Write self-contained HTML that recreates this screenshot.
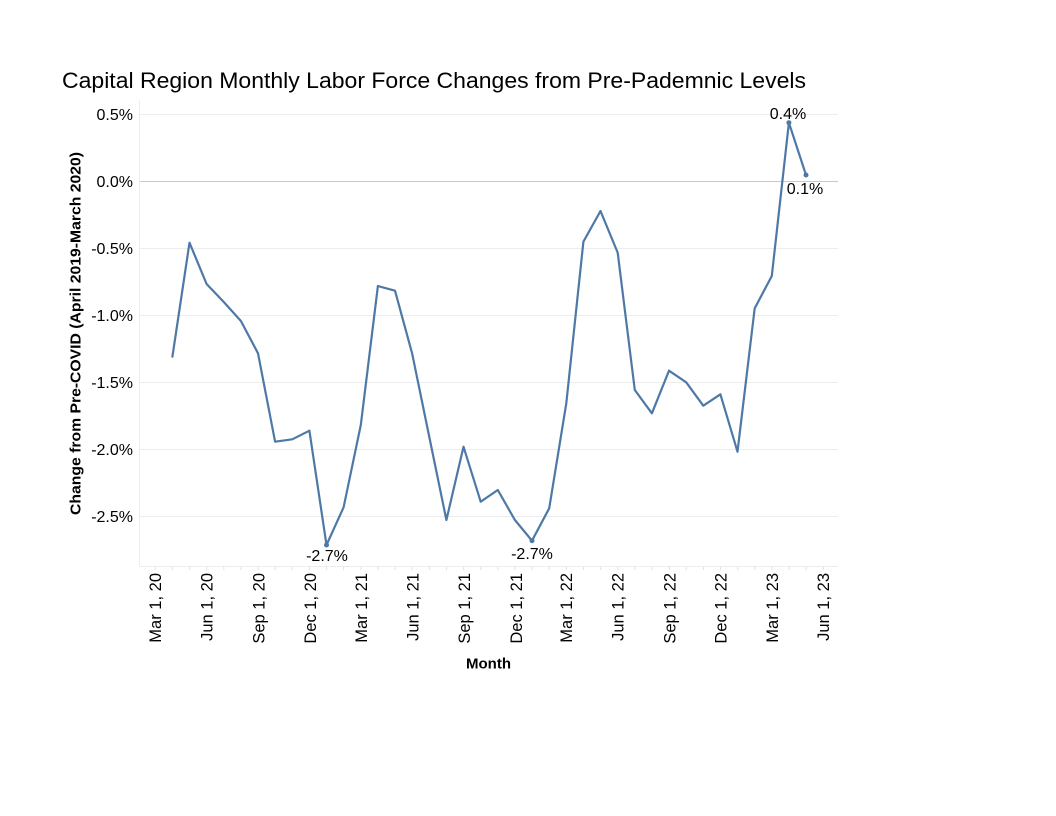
<!DOCTYPE html>
<html>
<head>
<meta charset="utf-8">
<style>
  html,body{margin:0;padding:0;background:#fff;}
  svg{display:block;}
  text{font-family:"Liberation Sans","DejaVu Sans",sans-serif;fill:#000;}
</style>
</head>
<body>
<svg width="1056" height="816" viewBox="0 0 1056 816" xmlns="http://www.w3.org/2000/svg">
  <rect width="1056" height="816" fill="#fff"/>
  <!-- Title -->
  <text x="62" y="88" font-size="22" textLength="744" lengthAdjust="spacingAndGlyphs" fill="#1a1a1a">Capital Region Monthly Labor Force Changes from Pre-Pademnic Levels</text>

  <!-- gridlines -->
  <g stroke="#ededed" stroke-width="1">
    <line x1="139.5" y1="114.5" x2="838" y2="114.5"/>
    <line x1="139.5" y1="248.5" x2="838" y2="248.5"/>
    <line x1="139.5" y1="315.5" x2="838" y2="315.5"/>
    <line x1="139.5" y1="382.5" x2="838" y2="382.5"/>
    <line x1="139.5" y1="449.5" x2="838" y2="449.5"/>
    <line x1="139.5" y1="516.5" x2="838" y2="516.5"/>
  </g>
  <line x1="139.5" y1="181.5" x2="838" y2="181.5" stroke="#c8c8c8" stroke-width="1"/>
  <!-- axes -->
  <line x1="139.5" y1="100" x2="139.5" y2="566.5" stroke="#ededed" stroke-width="1"/>
  <line x1="139.5" y1="566.5" x2="838" y2="566.5" stroke="#ededed" stroke-width="1"/>
  <!-- minor ticks monthly -->
  <g stroke="#e2e2e2" stroke-width="1" id="ticks"></g>

  <!-- y tick labels -->
  <g font-size="16" text-anchor="end">
    <text x="133" y="120">0.5%</text>
    <text x="133" y="187">0.0%</text>
    <text x="133" y="254">-0.5%</text>
    <text x="133" y="321">-1.0%</text>
    <text x="133" y="388">-1.5%</text>
    <text x="133" y="455">-2.0%</text>
    <text x="133" y="522">-2.5%</text>
  </g>

  <!-- y axis title -->
  <text transform="translate(80.5,333.5) rotate(-90)" font-size="15" font-weight="bold" text-anchor="middle" textLength="363" lengthAdjust="spacingAndGlyphs">Change from Pre-COVID (April 2019-March 2020)</text>

  <!-- x tick labels -->
  <g font-size="16.5" text-anchor="end">
    <text transform="translate(161,573) rotate(-90)">Mar 1, 20</text>
    <text transform="translate(212.5,573) rotate(-90)">Jun 1, 20</text>
    <text transform="translate(264.5,573) rotate(-90)">Sep 1, 20</text>
    <text transform="translate(316,573) rotate(-90)">Dec 1, 20</text>
    <text transform="translate(367,573) rotate(-90)">Mar 1, 21</text>
    <text transform="translate(418.5,573) rotate(-90)">Jun 1, 21</text>
    <text transform="translate(470,573) rotate(-90)">Sep 1, 21</text>
    <text transform="translate(522,573) rotate(-90)">Dec 1, 21</text>
    <text transform="translate(572,573) rotate(-90)">Mar 1, 22</text>
    <text transform="translate(623.5,573) rotate(-90)">Jun 1, 22</text>
    <text transform="translate(675.5,573) rotate(-90)">Sep 1, 22</text>
    <text transform="translate(726.5,573) rotate(-90)">Dec 1, 22</text>
    <text transform="translate(778,573) rotate(-90)">Mar 1, 23</text>
    <text transform="translate(829,573) rotate(-90)">Jun 1, 23</text>
  </g>

  <!-- x axis title -->
  <text x="488.5" y="668.5" font-size="15" font-weight="bold" text-anchor="middle">Month</text>

  <!-- data line -->
  <polyline fill="none" stroke="#4e79a7" stroke-width="2.2" stroke-linejoin="round" stroke-linecap="round"
    points="172.4,356.7 189.5,242.7 206.6,284 223.8,302 240.9,321 258.0,353.3 275.1,441.7 292.3,439.3 309.4,430.7 326.5,545 343.6,507.3 360.8,425 377.9,286 395.0,290.7 412.1,353.3 429.3,437 446.4,520 463.5,446.7 480.7,501.7 497.8,490 514.9,520 532.0,540.7 549.2,508.3 566.3,403.3 583.4,241.7 600.5,211 617.7,252.7 634.8,390 651.9,413.3 669.0,370.7 686.2,382.3 703.3,405.7 720.4,394.3 737.5,451.7 754.7,308.3 771.8,276 788.9,122.7 806.0,175"/>
  <g fill="#4e79a7">
    <circle cx="326.5" cy="545" r="2.5"/>
    <circle cx="532.0" cy="540.7" r="2.5"/>
    <circle cx="788.9" cy="122.7" r="2.5"/>
    <circle cx="806.0" cy="175" r="2.5"/>
  </g>

  <!-- mark labels -->
  <g font-size="16" text-anchor="middle">
    <text x="327" y="561">-2.7%</text>
    <text x="532" y="559">-2.7%</text>
    <text x="788" y="119">0.4%</text>
    <text x="805" y="194">0.1%</text>
  </g>
</svg>
<script>
(function(){
  var g=document.getElementById('ticks');
  for(var i=-1;i<=40;i++){
    var x=155.3+17.13*i;
    if(x<140||x>838) continue;
    var l=document.createElementNS('http://www.w3.org/2000/svg','line');
    l.setAttribute('x1',x.toFixed(1));l.setAttribute('x2',x.toFixed(1));
    l.setAttribute('y1','566.5');l.setAttribute('y2','570');
    g.appendChild(l);
  }
})();
</script>
</body>
</html>
